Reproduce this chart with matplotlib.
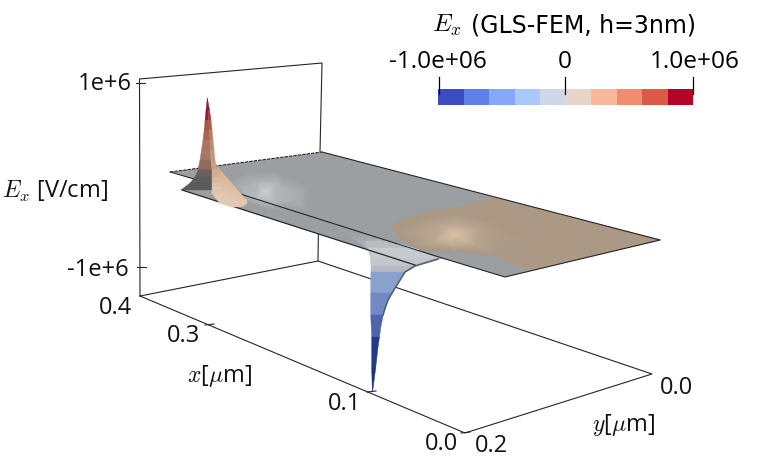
import matplotlib
matplotlib.use("Agg")
import matplotlib.pyplot as plt
from matplotlib.colors import LinearSegmentedColormap

plt.rcParams['font.family'] = ['Open Sans', 'DejaVu Sans']
plt.rcParams['mathtext.fontset'] = 'cm'

W, H = 774, 466
LINE = '#262626'

# colour bar
cbar_edges = [438, 463.5, 489, 514.5, 540, 565.5, 591, 616.5, 642, 667.5, 693]
cbar_colors = ['#3b4cc0', '#5f7fe8', '#87a7fb', '#abc8fd', '#cfd8ea',
               '#e8d5c9', '#f7b89c', '#f18d6f', '#dc5a48', '#b40426']
cbar_ticks = [438.5, 565, 693]
cbar_labels = ['-1.0e+06', '0', '1.0e+06']

# box of the 3D axes (screen pixels)
box_back = [[(140, 296), (139.5, 79), (322, 63), (320, 152)],
            [(140, 296), (318, 261), (319.5, 155)],
            [(318, 261), (652, 374), (465, 433), (140, 296)]]
tick_marks = [[(136, 83), (145, 83)], [(137, 267), (146, 267)],
              [(205, 325), (214, 324)], [(367, 392), (376, 391)],
              [(461, 433), (470, 432)]]

# sheet at Ex = 0
sheet_x = [170, 322, 660, 505, 442, 415, 182, 195]
sheet_y = [172, 152, 240, 277, 258, 265, 190, 180]
sheet_color = '#9c9fa1'
tan_x = [390, 400, 423, 457, 497, 662, 537, 520, 500, 473, 440, 420, 403]
tan_y = [228, 220, 212, 207, 198, 240, 269, 268, 258, 252, 252, 250, 240]
tan_color = '#ab9986'

# soft bumps on the sheet: outer ring, inner ring, centre
gray_bump_x = [222, 245, 275, 310, 335, 310, 270, 238, 242, 258, 276, 292, 296, 275, 255, 245, 265]
gray_bump_y = [185, 173, 172, 185, 205, 213, 210, 198, 187, 182, 183, 192, 200, 203, 200, 194, 192]
gray_bump_v = [0, 0, 0, 0, 0, 0, 0, 0, .35, .4, .45, .35, .3, .45, .5, .45, 1]
tan_bump_x = [398, 420, 455, 495, 525, 500, 455, 415, 425, 440, 458, 478, 490, 475, 452, 432, 455]
tan_bump_y = [232, 219, 213, 222, 240, 254, 251, 247, 233, 226, 224, 229, 238, 245, 246, 242, 235]
tan_bump_v = [0, 0, 0, 0, 0, 0, 0, 0, .25, .3, .35, .25, .12, .3, .35, .3, 1]
strip_bump_x = [345, 375, 442, 415, 372, 390]
strip_bump_y = [232, 237, 258, 265, 251, 250]
strip_bump_v = [0, .2, 0, .2, .5, 1]

# peak near x = 0.3: left/middle/right outline at each screen height
peak_y = [98, 110, 120, 130, 140, 150, 160, 170, 177, 183, 187, 190]
peak_l = [207.3, 206, 205, 204.2, 203, 201.5, 200, 198, 194.5, 190, 185, 181]
peak_m = [207.3, 208, 208.5, 209.5, 210, 210.5, 211, 212, 212, 212, 212, 212]
peak_r = [207.3, 209.5, 211, 212, 213, 214, 215, 217, 218, 220, 221, 222]
peak_dark = ['#7d1529', '#8a2433', '#a0584a', '#a8634f', '#a97560', '#a47a66',
             '#8c6c5e', '#6b615b', '#5e5c5a', '#5a5a5a', '#5c5b5b']
peak_light = ['#8b1a2c', '#a03a38', '#ad5f4c', '#b87d63', '#bd8b70', '#c6977a',
              '#cc9f84', '#d3ad92', '#d8b8a0', '#dcc0a9', '#dfc6b0']
lobe_x = [212, 217, 227, 237, 246, 247, 243, 232, 220, 212, 222]
lobe_y = [177, 167, 183, 193, 200, 203, 206, 207, 203, 193, 190]
lobe_v = [.3, 0, .5, .7, .8, .85, .9, .95, 1, .8, .7]

# spike near x = 0.1
spike_y = [241, 248, 258, 266, 272, 278, 285, 293, 300, 307, 315, 326, 337, 345, 368, 392]
spike_l = [365, 367.7, 370.3, 371, 371, 370.8, 370.7, 370.7, 370.7, 370.7, 370.7, 371.2, 371.7,
           371.7, 371.7, 372.3]
spike_r = [387, 410, 440, 415, 405, 400.5, 396.7, 392, 388.3, 385.5, 383.3, 381, 379.5,
           378.3, 375.7, 372.6]
spike_colors = ['#b9bdc1', '#c6c9cd', '#c3c7cc', '#b6bbc3', '#8aa0cd', '#8aa0cd', '#8aa0cd',
                '#7189c5', '#7189c5', '#7189c5', '#4e64ad', '#4e64ad', '#25398b', '#25398b', '#1f2f80']
rim_x = [383, 385.5, 388, 392, 397, 405, 415, 438]
rim_y = [315, 307, 300, 293, 285, 272, 266, 259]

# axis text: label, left x, centre y
labels = [('1e+6', 78, 84.5), ('-1e+6', 67, 269.5), ('0.4', 99, 308.5), ('0.3', 167, 336.5),
          ('0.1', 328, 404.5), ('0.0', 425, 444.5), ('0.2', 475, 446.5), ('0.0', 660, 387.5),
          (r'$E_x$ [V/cm]', 2, 191), (r'$x$[$\mu$m]', 187, 376), (r'$y$[$\mu$m]', 592, 425)]

fig = plt.figure(figsize=(W / 100, H / 100), dpi=100)
ax = fig.add_axes([0, 0, 1, 1])
ax.set_xlim(0, W)
ax.set_ylim(H, 0)
ax.axis('off')

for seg in box_back + tick_marks:
    ax.plot(*zip(*seg), color=LINE, lw=0.8, zorder=1)

ax.fill(sheet_x, sheet_y, color=sheet_color, lw=0, zorder=2)
ax.fill(tan_x, tan_y, color=tan_color, lw=0, zorder=3)

gray_map = LinearSegmentedColormap.from_list('g', [sheet_color, '#cdd1d3'])
tan_map = LinearSegmentedColormap.from_list('t', [tan_color, '#dcc3a8'])
lobe_map = LinearSegmentedColormap.from_list('l', ['#d6a98a', '#e4cdb9'])
ax.tripcolor(gray_bump_x, gray_bump_y, gray_bump_v, shading='gouraud', cmap=gray_map,
             vmin=0, vmax=1, zorder=3)
ax.tripcolor(tan_bump_x, tan_bump_y, tan_bump_v, shading='gouraud', cmap=tan_map,
             vmin=0, vmax=1, zorder=4)
ax.tripcolor(strip_bump_x, strip_bump_y, strip_bump_v, shading='gouraud', cmap=gray_map,
             vmin=0, vmax=1, zorder=4)

# spike
for i, col in enumerate(spike_colors):
    ax.fill([spike_l[i], spike_r[i], spike_r[i + 1], spike_l[i + 1]],
            [spike_y[i], spike_y[i], spike_y[i + 1], spike_y[i + 1]],
            color=col, lw=0.3, ec=col, zorder=4.5)
ax.plot(rim_x, rim_y, color='#565e70', lw=1.2, zorder=5)
ax.plot([398, 418], [244, 250], color='white', lw=1, zorder=5)

# edges of the sheet
ax.plot([322, 660, 505, 442, 237], [152, 240, 277, 258, 193], color=LINE, lw=0.8, zorder=6)
ax.plot([170, 322], [172, 152], color=LINE, lw=0.8, ls=(0, (3, 1)), zorder=6)
ax.plot([170, 208], [172, 183], color=LINE, lw=0.7, zorder=6)
ax.plot([182, 415], [190, 265], color=LINE, lw=0.9, zorder=6)

# peak
ax.tripcolor(lobe_x, lobe_y, lobe_v, shading='gouraud', cmap=lobe_map, vmin=0, vmax=1, zorder=7)
for i in range(len(peak_y) - 1):
    ys = [peak_y[i], peak_y[i], peak_y[i + 1], peak_y[i + 1]]
    ax.fill([peak_l[i], peak_m[i], peak_m[i + 1], peak_l[i + 1]], ys,
            color=peak_dark[i], lw=0.3, ec=peak_dark[i], zorder=8)
    ax.fill([peak_m[i], peak_r[i], peak_r[i + 1], peak_m[i + 1]], ys,
            color=peak_light[i], lw=0.3, ec=peak_light[i], zorder=8)

# colour bar
for i, col in enumerate(cbar_colors):
    ax.fill_between(cbar_edges[i:i + 2], 89, 105, color=col, lw=0, zorder=2)
for x, lab in zip(cbar_ticks, cbar_labels):
    ax.plot([x, x], [77, 94], color='black', lw=0.9, zorder=3)
ax.text(437.5, 61.5, cbar_labels[0], ha='center', va='center', fontsize=17.6)
ax.text(565, 61.5, cbar_labels[1], ha='center', va='center', fontsize=17.6)
ax.text(695, 61.5, cbar_labels[2], ha='center', va='center', fontsize=17.6)
ax.text(432, 25, r'$E_x$', ha='left', va='center', fontsize=18)
ax.text(471, 25, '(GLS-FEM, h=3nm)', ha='left', va='center', fontsize=17, family='DejaVu Sans')

for txt, x, y in labels:
    ax.text(x, y, txt, ha='left', va='center', fontsize=17, color='#111111')

fig.savefig('out.png', dpi=100)
